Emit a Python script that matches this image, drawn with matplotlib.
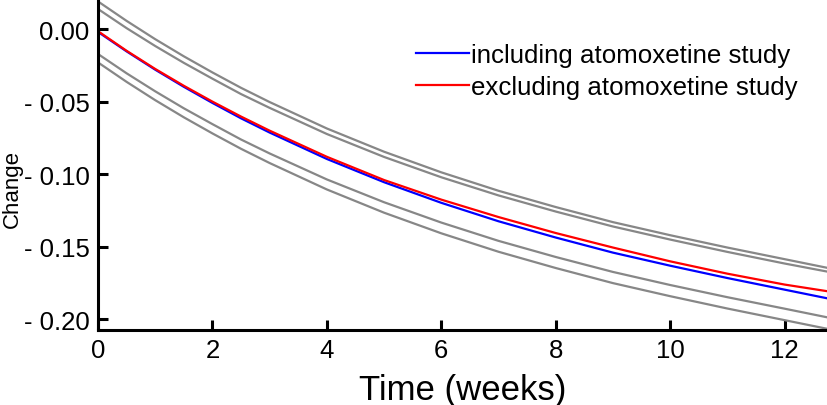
import matplotlib
matplotlib.use("Agg")
import matplotlib.pyplot as plt
from matplotlib.ticker import FuncFormatter

plt.rcParams['font.family'] = ['Liberation Sans', 'DejaVu Sans']

# time points (weeks)
weeks = [0, 0.5, 1, 1.5, 2, 2.5, 3, 4, 5, 6, 7, 8, 9, 10, 11, 12, 12.75]

# fitted change, including atomoxetine study
including = [-0.0020, -0.0154, -0.0280, -0.0398, -0.0509, -0.0615, -0.0713,
             -0.0895, -0.1055, -0.1197, -0.1324, -0.1436, -0.1540, -0.1630,
             -0.1715, -0.1795, -0.1855]
# fitted change, excluding atomoxetine study
excluding = [-0.0015, -0.0150, -0.0275, -0.0391, -0.0500, -0.0603, -0.0700,
             -0.0880, -0.1040, -0.1175, -0.1295, -0.1405, -0.1505, -0.1600,
             -0.1685, -0.1760, -0.1806]

# confidence bounds (grey)
upper_a = [0.0190, 0.0056, -0.0070, -0.0188, -0.0299, -0.0405, -0.0503,
           -0.0685, -0.0845, -0.0987, -0.1114, -0.1226, -0.1330, -0.1420,
           -0.1505, -0.1585, -0.1645]
upper_b = [0.0138, 0.0006, -0.0117, -0.0233, -0.0342, -0.0448, -0.0543,
           -0.0723, -0.0881, -0.1021, -0.1146, -0.1257, -0.1360, -0.1450,
           -0.1535, -0.1615, -0.1671]
lower_a = [-0.0172, -0.0305, -0.0429, -0.0546, -0.0655, -0.0761, -0.0857,
           -0.1036, -0.1193, -0.1333, -0.1459, -0.1570, -0.1673, -0.1763,
           -0.1847, -0.1926, -0.1986]
lower_b = [-0.0230, -0.0364, -0.0490, -0.0608, -0.0719, -0.0825, -0.0923,
           -0.1105, -0.1265, -0.1407, -0.1534, -0.1646, -0.1750, -0.1840,
           -0.1925, -0.2005, -0.2065]

x_ticks = [0, 2, 4, 6, 8, 10, 12]
y_ticks = [0.00, -0.05, -0.10, -0.15, -0.20]

W, H = 828, 406
fig = plt.figure(figsize=(W / 100, H / 100), dpi=100)
ax = fig.add_axes([98 / W, 1 - 331 / H, 1 - 98 / W, 329 / H])

for band in (upper_a, upper_b, lower_a, lower_b):
    ax.plot(weeks, band, color='#878787', lw=1.6, solid_capstyle='butt')

ax.plot(weeks, including, color='#0000ff', lw=1.6, label='including atomoxetine study')
ax.plot(weeks, excluding, color='#ff0000', lw=1.6, label='excluding atomoxetine study')

ax.set_xlim(0, 12.76)
ax.set_ylim(-0.2073, 0.0193)
ax.set_xticks(x_ticks)
ax.set_yticks(y_ticks)


def yfmt(v, pos):
    if abs(v) < 1e-9:
        return '0.00'
    return '- %.2f' % abs(v) if v < 0 else '%.2f' % v


ax.yaxis.set_major_formatter(FuncFormatter(yfmt))

for s in ('top', 'right'):
    ax.spines[s].set_visible(False)
for s in ('left', 'bottom'):
    ax.spines[s].set_linewidth(2.2)
ax.tick_params(direction='in', length=7, width=2.2, labelsize=18.5, pad=6)

ax.set_xlabel('Time (weeks)', fontsize=25, labelpad=8)
fig.text(12 / W, 1 - 189 / H, 'Change', rotation=90, ha='center', va='center',
         fontsize=16)

leg = ax.legend(loc='upper right', bbox_to_anchor=(798 / W, 1 - 44 / H),
                bbox_transform=fig.transFigure, frameon=False,
                fontsize=18.6, handlelength=2.05, handletextpad=0.1,
                labelspacing=0.32, borderaxespad=0.0, borderpad=0.0)

fig.savefig('out.png', dpi=100)
